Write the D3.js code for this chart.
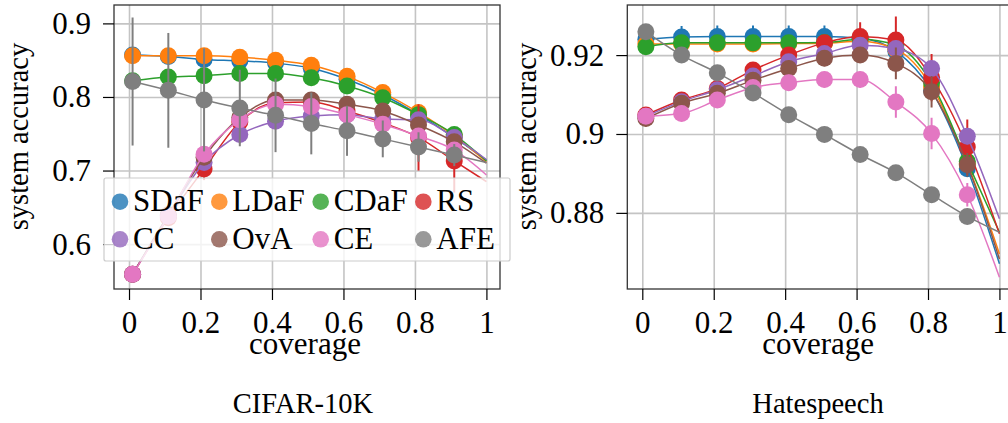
<!DOCTYPE html>
<html>
<head>
<meta charset="utf-8">
<script src="https://cdn.jsdelivr.net/npm/d3@7"></script>
<style>
body { margin: 0; background: #fff; }
svg { display: block; }
svg text { font-family: "Liberation Serif", "Times New Roman", Times, "DejaVu Serif", serif; }
</style>
</head>
<body>
<div id="chart"></div>
<script>
// methods and colours (tab10)
var methods = ["SDaF", "LDaF", "CDaF", "RS", "CC", "OvA", "CE", "AFE"];
var colors = ["#1f77b4", "#ff7f0e", "#2ca02c", "#d62728", "#9467bd", "#8c564b", "#e377c2", "#7f7f7f"];
var serif = "'Liberation Serif', 'Times New Roman', Times, serif";

// markers sit at the first 10 coverages, the fitted line runs on to 1.0
var coverage = [0.01, 0.11, 0.21, 0.31, 0.41, 0.51, 0.61, 0.71, 0.81, 0.91, 1.0];
var xTicks = [0, 0.2, 0.4, 0.6, 0.8, 1];
var xTickLabels = ["0", "0.2", "0.4", "0.6", "0.8", "1"];

// ---- CIFAR-10K ----
var cifarYTicks = [0.6, 0.7, 0.8, 0.9];
var cifarYTickLabels = ["0.6", "0.7", "0.8", "0.9"];
var cifarSDaF = [0.857, 0.855, 0.851, 0.849, 0.846, 0.839, 0.824, 0.803, 0.776, 0.745, 0.714];
var cifarLDaF = [0.856, 0.856, 0.856, 0.854, 0.850, 0.843, 0.828, 0.806, 0.779, 0.747, 0.712];
var cifarCDaF = [0.822, 0.827, 0.829, 0.832, 0.832, 0.826, 0.815, 0.799, 0.776, 0.749, 0.713];
var cifarRS   = [0.559, 0.636, 0.702, 0.766, 0.792, 0.793, 0.781, 0.765, 0.745, 0.713, 0.685];
var cifarCC   = [0.559, 0.639, 0.711, 0.749, 0.767, 0.774, 0.776, 0.770, 0.769, 0.745, 0.715];
var cifarOvA  = [0.559, 0.640, 0.718, 0.772, 0.796, 0.796, 0.790, 0.781, 0.762, 0.739, 0.710];
var cifarCE   = [0.559, 0.638, 0.722, 0.769, 0.790, 0.787, 0.776, 0.763, 0.747, 0.728, 0.694];
var cifarAFE  = [0.821, 0.809, 0.796, 0.785, 0.775, 0.764, 0.754, 0.743, 0.732, 0.721, 0.711];
var cifarSDaFErr = [0.003, 0.002, 0.002, 0.002, 0.002, 0.002, 0.003, 0.003, 0.003, 0.003];
var cifarLDaFErr = [0.002, 0.002, 0.002, 0.002, 0.002, 0.002, 0.003, 0.003, 0.003, 0.003];
var cifarCDaFErr = [0.004, 0.004, 0.004, 0.005, 0.005, 0.006, 0.008, 0.006, 0.005, 0.005];
var cifarRSErr   = [0.003, 0.010, 0.015, 0.015, 0.010, 0.010, 0.015, 0.020, 0.045, 0.043];
var cifarCCErr   = [0.003, 0.008, 0.010, 0.012, 0.010, 0.010, 0.010, 0.010, 0.010, 0.008];
var cifarOvAErr  = [0.003, 0.008, 0.010, 0.010, 0.010, 0.010, 0.010, 0.010, 0.010, 0.010];
var cifarCEErr   = [0.003, 0.008, 0.010, 0.010, 0.010, 0.010, 0.010, 0.010, 0.010, 0.010];
var cifarAFEErr  = [0.087, 0.078, 0.070, 0.052, 0.050, 0.042, 0.034, 0.025, 0.020, 0.015];

// ---- Hatespeech ----
var hateYTicks = [0.88, 0.9, 0.92];
var hateYTickLabels = ["0.88", "0.9", "0.92"];
var hateSDaF = [0.9240, 0.9246, 0.9247, 0.9247, 0.9247, 0.9247, 0.9243, 0.9210, 0.9110, 0.8912, 0.8671];
var hateLDaF = [0.9228, 0.9228, 0.9228, 0.9228, 0.9229, 0.9230, 0.9235, 0.9215, 0.9120, 0.8925, 0.8696];
var hateCDaF = [0.9221, 0.9231, 0.9231, 0.9231, 0.9231, 0.9232, 0.9240, 0.9225, 0.9130, 0.8930, 0.8751];
var hateRS   = [0.9048, 0.9086, 0.9115, 0.9162, 0.9200, 0.9231, 0.9247, 0.9238, 0.9143, 0.8967, 0.8747];
var hateCC   = [0.9045, 0.9082, 0.9112, 0.9147, 0.9183, 0.9204, 0.9225, 0.9217, 0.9166, 0.8994, 0.8785];
var hateOvA  = [0.9039, 0.9078, 0.9103, 0.9136, 0.9166, 0.9192, 0.9200, 0.9179, 0.9107, 0.8922, 0.8683];
var hateCE   = [0.9045, 0.9052, 0.9086, 0.9118, 0.9130, 0.9138, 0.9138, 0.9081, 0.9001, 0.8846, 0.8637];
var hateAFE  = [0.9259, 0.9200, 0.9155, 0.9104, 0.9049, 0.8999, 0.8948, 0.8902, 0.8846, 0.8791, 0.8751];
var hateSDaFErr = [0.0028, 0.0028, 0.0028, 0.0028, 0.0028, 0.0028, 0.002, 0.002, 0.002, 0.002];
var hateLDaFErr = [0.001, 0.001, 0.001, 0.001, 0.001, 0.001, 0.001, 0.0015, 0.002, 0.002];
var hateCDaFErr = [0.002, 0.0015, 0.0015, 0.0015, 0.0015, 0.0015, 0.0015, 0.0015, 0.002, 0.002];
var hateRSErr   = [0.001, 0.0015, 0.002, 0.002, 0.002, 0.002, 0.0036, 0.006, 0.006, 0.007];
var hateCCErr   = [0.001, 0.001, 0.001, 0.001, 0.001, 0.001, 0.0015, 0.002, 0.002, 0.002];
var hateOvAErr  = [0.002, 0.002, 0.002, 0.002, 0.002, 0.002, 0.002, 0.004, 0.004, 0.003];
var hateCEErr   = [0.002, 0.002, 0.002, 0.002, 0.002, 0.002, 0.002, 0.004, 0.004, 0.003];
var hateAFEErr  = [0.0015, 0.0015, 0.0015, 0.0015, 0.0015, 0.0015, 0.0015, 0.0015, 0.0015, 0.0015];

function makeSeries(means, errs){
	return methods.map(function(m, i){
		return {name: m, color: colors[i], mean: means[i], err: errs[i]};
	});
}

var svg = d3.select("#chart").append("svg")
	.attr("width", 1008)
	.attr("height", 423)
	.attr("font-family", serif);

function drawPanel(p){
	var x = d3.scaleLinear().domain([-0.042, 1.038]).range([p.left, p.right]);
	var y = d3.scaleLinear().domain(p.yDomain).range([p.bottom, p.top]);
	var g = svg.append("g");

	// grid
	g.append("g")
		.attr("transform", "translate(0," + p.bottom + ")")
		.call(d3.axisBottom(x).tickValues(xTicks).tickSize(-(p.bottom - p.top)).tickFormat(""))
		.call(s => s.select(".domain").remove())
		.selectAll("line").attr("stroke", "#c4c4c4").attr("stroke-width", 1.6);
	g.append("g")
		.attr("transform", "translate(" + p.left + ",0)")
		.call(d3.axisLeft(y).tickValues(p.yTicks).tickSize(-(p.right - p.left)).tickFormat(""))
		.call(s => s.select(".domain").remove())
		.selectAll("line").attr("stroke", "#c4c4c4").attr("stroke-width", 1.6);

	var clipId = "clip" + p.id;
	g.append("clipPath").attr("id", clipId)
		.append("rect")
		.attr("x", p.left).attr("y", p.top)
		.attr("width", p.right - p.left).attr("height", p.bottom - p.top);

	var plot = g.append("g").attr("clip-path", "url(#" + clipId + ")");
	var line = d3.line()
		.x(function(d, i){ return x(coverage[i]); })
		.y(function(d){ return y(d); })
		.curve(d3.curveMonotoneX);

	p.series.forEach(function(s){
		var sg = plot.append("g");
		sg.append("path")
			.attr("d", line(s.mean))
			.attr("fill", "none")
			.attr("stroke", s.color)
			.attr("stroke-width", 1.5);
		var pts = s.err.map(function(e, i){ return {c: coverage[i], m: s.mean[i], e: e}; });
		sg.selectAll("line.err")
			.data(pts)
			.enter()
			.append("line")
			.attr("x1", d => x(d.c)).attr("x2", d => x(d.c))
			.attr("y1", d => y(d.m - d.e)).attr("y2", d => y(d.m + d.e))
			.attr("stroke", s.color)
			.attr("stroke-width", 2);
		sg.selectAll("circle")
			.data(pts)
			.enter()
			.append("circle")
			.attr("cx", d => x(d.c))
			.attr("cy", d => y(d.m))
			.attr("r", 8.5)
			.attr("fill", s.color);
	});

	// frame
	g.append("rect")
		.attr("x", p.left).attr("y", p.top)
		.attr("width", p.right - p.left).attr("height", p.bottom - p.top)
		.attr("fill", "none")
		.attr("stroke", "#333")
		.attr("stroke-width", 1.3);

	// axes
	var xa = g.append("g")
		.attr("transform", "translate(0," + p.bottom + ")")
		.call(d3.axisBottom(x).tickValues(xTicks).tickSize(11).tickPadding(11)
			.tickFormat(function(d, i){ return xTickLabels[i]; }));
	var ya = g.append("g")
		.attr("transform", "translate(" + p.left + ",0)")
		.call(d3.axisLeft(y).tickValues(p.yTicks).tickSize(11).tickPadding(12)
			.tickFormat(function(d, i){ return p.yTickLabels[i]; }));
	[xa, ya].forEach(function(a){
		a.select(".domain").remove();
		a.attr("font-family", serif).attr("font-size", 31);
		a.selectAll("line").attr("stroke", "#000").attr("stroke-width", 1.2);
		a.selectAll("text").attr("fill", "#000")
			.style("font-family", serif).style("font-size", "31px");
	});

	// labels
	g.append("text")
		.attr("x", (p.left + p.right) / 2 - 2)
		.attr("y", 354)
		.attr("text-anchor", "middle")
		.style("font-family", serif)
		.style("font-size", "31px")
		.text("coverage");
	g.append("text")
		.attr("transform", "translate(" + p.ylabelX + ",136.5) rotate(-90)")
		.attr("text-anchor", "middle")
		.style("font-family", serif)
		.style("font-size", "28.5px")
		.text("system accuracy");
	g.append("text")
		.attr("x", p.titleX)
		.attr("y", 413)
		.attr("text-anchor", "middle")
		.style("font-family", serif)
		.style("font-size", "28.5px")
		.text(p.title);
}

drawPanel({
	id: 0, left: 114, right: 500, top: 5, bottom: 289,
	yDomain: [0.539, 0.925], yTicks: cifarYTicks, yTickLabels: cifarYTickLabels,
	series: makeSeries([cifarSDaF, cifarLDaF, cifarCDaF, cifarRS, cifarCC, cifarOvA, cifarCE, cifarAFE],
		[cifarSDaFErr, cifarLDaFErr, cifarCDaFErr, cifarRSErr, cifarCCErr, cifarOvAErr, cifarCEErr, cifarAFEErr]),
	title: "CIFAR-10K", titleX: 303, ylabelX: 28
});

drawPanel({
	id: 1, left: 627.3, right: 1013, top: 5, bottom: 289,
	yDomain: [0.8607, 0.9327], yTicks: hateYTicks, yTickLabels: hateYTickLabels,
	series: makeSeries([hateSDaF, hateLDaF, hateCDaF, hateRS, hateCC, hateOvA, hateCE, hateAFE],
		[hateSDaFErr, hateLDaFErr, hateCDaFErr, hateRSErr, hateCCErr, hateOvAErr, hateCEErr, hateAFEErr]),
	title: "Hatespeech", titleX: 818, ylabelX: 536
});

// legend in the left panel
var legend = svg.append("g");
legend.append("rect")
	.attr("x", 104).attr("y", 178)
	.attr("width", 406).attr("height", 83)
	.attr("rx", 2)
	.attr("fill", "#fff").attr("fill-opacity", 0.8)
	.attr("stroke", "#ccc").attr("stroke-width", 1.2);
var legX = [120, 219.3, 320.7, 423.3];
var legY = [201.7, 239.3];
methods.forEach(function(m, i){
	var cx = legX[i % 4], cy = legY[Math.floor(i / 4)];
	legend.append("circle")
		.attr("cx", cx).attr("cy", cy).attr("r", 8.3)
		.attr("fill", colors[i]).attr("fill-opacity", 0.8);
	legend.append("text")
		.attr("x", cx + 13)
		.attr("y", cy + 9.5)
		.style("font-family", serif)
		.style("font-size", "31px")
		.text(m);
});
</script>
</body>
</html>
